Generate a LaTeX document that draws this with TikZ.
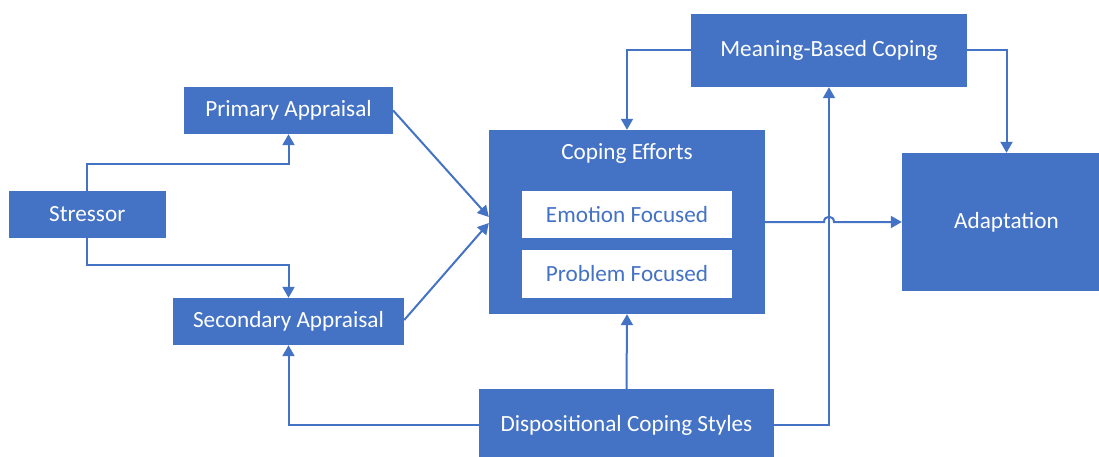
\documentclass[tikz,border=0pt]{standalone}
\usepackage{fontspec}
\setmainfont{Carlito}
\usetikzlibrary{arrows.meta,calc}
\definecolor{officeblue}{HTML}{4472C4}
\begin{document}
\begin{tikzpicture}[x=1pt,y=-1pt,
  labelfont/.style={font=\fontsize{23.2}{27}\selectfont},
  box/.style={rectangle,fill=officeblue,text=white,inner sep=0pt,labelfont},
  inbox/.style={rectangle,fill=white,text=officeblue,inner sep=0pt,labelfont},
  link/.style={draw=officeblue,line width=2pt},
  arr/.style={link,-{Triangle[width=12pt,length=11pt]}}]
\useasboundingbox (0,0) rectangle (1099,457);
% boxes
\node[box,minimum width=157.5pt,minimum height=47pt] (stressor) at (87.25,214.5) {Stressor};
\node[box,minimum width=209pt,minimum height=47pt] (primary) at (288.5,110.5) {Primary Appraisal};
\node[box,minimum width=231pt,minimum height=47pt] (secondary) at (288.5,321.5) {Secondary Appraisal};
\node[box,minimum width=276pt,minimum height=184pt] (coping) at (627,222) {};
\node[text=white,labelfont] (copingtitle) at (627,153) {Coping Efforts};
\node[inbox,minimum width=210pt,minimum height=47pt] (emotion) at (627,214.5) {Emotion Focused};
\node[inbox,minimum width=210pt,minimum height=48pt] (problem) at (627,274) {Problem Focused};
\node[box,minimum width=276pt,minimum height=73pt] (meaning) at (829,50.5) {Meaning-Based Coping};
\node[box,minimum width=209pt,minimum height=138pt] (adapt) at (1006.5,222) {Adaptation};
\node[box,minimum width=295pt,minimum height=72pt] (disp) at (626.5,425) {Dispositional Coping Styles};
% connectors
\draw[arr] (stressor.north) -- ++(0,-27) -| (primary.south);
\draw[arr] (stressor.south) -- ++(0,27) -| (secondary.north);
\draw[arr] (primary.east) -- ($(coping.west)+(0,-5)$);
\draw[arr] ($(secondary.east)+(0,-1.5)$) -- ($(coping.west)+(0,1)$);
\draw[arr] (disp.north) -- (coping.south);
\draw[arr] (disp.west) -| (secondary.south);
\draw[arr] (disp.east) -| (meaning.south);
\draw[arr] (meaning.west) -| (coping.north);
\draw[arr] (meaning.east) -| (adapt.north);
\coordinate (hopL) at ($(coping.east -| meaning.south)+(-5,0)$);
\coordinate (hopR) at ($(coping.east -| meaning.south)+(5,0)$);
\draw[arr] (coping.east) -- (hopL) .. controls ($(hopL)+(0,-7)$) and ($(hopR)+(0,-7)$) .. (hopR) -- (adapt.west);
\end{tikzpicture}
\end{document}
